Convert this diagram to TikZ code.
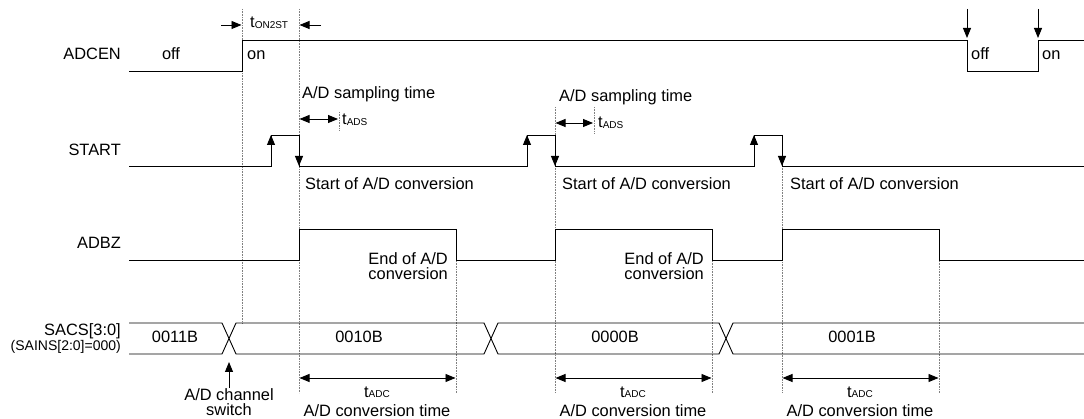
\documentclass[tikz,border=0pt]{standalone}
\usepackage{fontspec}
\setmainfont{Liberation Sans}
\usetikzlibrary{arrows.meta}
\newcommand{\tsb}[1]{t\raisebox{-1pt}{\fontsize{10}{10}\selectfont #1}}

\begin{document}
\begin{tikzpicture}[x=1pt,y=-1pt,
    sig/.style={line width=0.9pt},
    guide/.style={densely dotted,gray,line width=0.6pt},
    edgearr/.style={line width=0.9pt,-{Triangle[length=10pt,width=8pt]}},
    dimarr/.style={line width=0.9pt,{Triangle[length=10pt,width=8pt]}-{Triangle[length=10pt,width=8pt]}},
    lbl/.style={font=\fontsize{16.4}{15.5}\selectfont,inner sep=0pt},
    small/.style={font=\fontsize{14}{14}\selectfont,inner sep=0pt}]
      \useasboundingbox (0,0) rectangle (1084,419);

      % guide lines
      \draw[guide] (242,9) -- (242,323);
      \draw[guide] (299,9) -- (299,393);
      \draw[guide] (339,112) -- (339,130);
      \draw[guide] (456,229) -- (456,393);
      \draw[guide] (555,107) -- (555,393);
      \draw[guide] (594,107) -- (594,134);
      \draw[guide] (712,229) -- (712,393);
      \draw[guide] (782,166) -- (782,393);
      \draw[guide] (939,229) -- (939,393);

      % signal names
      \node[lbl,anchor=base east] (adcen) at (121,60) {ADCEN};
      \node[lbl,anchor=base east] (start) at (121,156) {START};
      \node[lbl,anchor=base east] (adbz) at (121,249) {ADBZ};
      \node[lbl,anchor=base east] (sacs) at (121,336) {SACS[3:0]};
      \node[small,anchor=base east] (sains) at (121,351) {(SAINS[2:0]=000)};

      % ADCEN
      \draw[sig] (129,71) -- (242,71) -- (242,40) -- (967,40) -- (967,71)
        -- (1038,71) -- (1038,40) -- (1084,40);
      \node[lbl,anchor=base] (off1) at (171,60) {off};
      \node[lbl,anchor=base west] (on1) at (247,60) {on};
      \node[lbl,anchor=base west] (off2) at (971,60) {off};
      \node[lbl,anchor=base west] (on2) at (1042,60) {on};
      \coordinate (offtop) at (967,9);   \coordinate (offtip) at (967,38);
      \coordinate (ontop) at (1038,9);   \coordinate (ontip) at (1038,38);
      \draw[edgearr] (offtop) -- (offtip);
      \draw[edgearr] (ontop) -- (ontip);

      \coordinate (ton-l) at (221,25);   \coordinate (ton-lt) at (241.5,25);
      \coordinate (ton-r) at (321,25);   \coordinate (ton-rt) at (299.5,25);
      \draw[edgearr] (ton-l) -- (ton-lt);
      \draw[edgearr] (ton-r) -- (ton-rt);
      \node[lbl,anchor=base west] (ton) at (250,28) {\tsb{ON2ST}};

      % START
      \draw[sig] (129,166) -- (271,166) -- (271,135) -- (299,135) -- (299,166)
        -- (527,166) -- (527,135) -- (555,135) -- (555,166)
        -- (754,166) -- (754,135) -- (782,135) -- (782,166) -- (1084,166);
      \coordinate (s1r) at (271,166);  \coordinate (s1rt) at (271,135);
      \coordinate (s1f) at (299,135);  \coordinate (s1ft) at (299,166);
      \coordinate (s2r) at (527,166);  \coordinate (s2rt) at (527,135);
      \coordinate (s2f) at (555,135);  \coordinate (s2ft) at (555,166);
      \coordinate (s3r) at (754,166);  \coordinate (s3rt) at (754,135);
      \coordinate (s3f) at (782,135);  \coordinate (s3ft) at (782,166);
      \draw[edgearr] (s1r) -- (s1rt);  \draw[edgearr] (s1f) -- (s1ft);
      \draw[edgearr] (s2r) -- (s2rt);  \draw[edgearr] (s2f) -- (s2ft);
      \draw[edgearr] (s3r) -- (s3rt);  \draw[edgearr] (s3f) -- (s3ft);

      \node[lbl,anchor=base west] (samp1) at (302,99) {A/D sampling time};
      \node[lbl,anchor=base west] (samp2) at (559,102) {A/D sampling time};
      \coordinate (ads1l) at (299.5,119);  \coordinate (ads1r) at (338,119);
      \coordinate (ads2l) at (555.5,123);  \coordinate (ads2r) at (593,123);
      \draw[dimarr] (ads1l) -- (ads1r);
      \draw[dimarr] (ads2l) -- (ads2r);
      \node[lbl,anchor=base west] (tads1) at (342,125) {\tsb{ADS}};
      \node[lbl,anchor=base west] (tads2) at (598,128) {\tsb{ADS}};

      \node[lbl,anchor=base west] (soc1) at (305,190) {Start of A/D conversion};
      \node[lbl,anchor=base west] (soc2) at (562,190) {Start of A/D conversion};
      \node[lbl,anchor=base west] (soc3) at (790,190) {Start of A/D conversion};

      % ADBZ
      \draw[sig] (129,260) -- (299,260) -- (299,229) -- (456,229) -- (456,260)
        -- (555,260) -- (555,229) -- (712,229) -- (712,260)
        -- (782,260) -- (782,229) -- (939,229) -- (939,260) -- (1084,260);
      \node[lbl,anchor=north east,align=right] (eoc1) at (448,252) {End of A/D\\conversion};
      \node[lbl,anchor=north east,align=right] (eoc2) at (704,252) {End of A/D\\conversion};

      % SACS bus
      \draw[sig] (129,323) -- (222,323) -- (236,354) -- (484,354) -- (498,323)
        -- (719,323) -- (733,354) -- (1084,354);
      \draw[sig] (129,354) -- (222,354) -- (236,323) -- (484,323) -- (498,354)
        -- (719,354) -- (733,323) -- (1084,323);
      \node[lbl,anchor=base] (v0011) at (175,343) {0011B};
      \node[lbl,anchor=base] (v0010) at (359,343) {0010B};
      \node[lbl,anchor=base] (v0000) at (615,343) {0000B};
      \node[lbl,anchor=base] (v0001) at (852,343) {0001B};

      \node[lbl,anchor=north,align=center] (chsw) at (229,388) {A/D channel\\switch};
      \coordinate (chtip) at (229,362);
      \draw[edgearr] (chsw) -- (chtip);

      % conversion time
      \coordinate (adc1l) at (299.5,378);  \coordinate (adc1r) at (455.5,378);
      \coordinate (adc2l) at (555.5,378);  \coordinate (adc2r) at (711.5,378);
      \coordinate (adc3l) at (782.5,378);  \coordinate (adc3r) at (938.5,378);
      \draw[dimarr] (adc1l) -- (adc1r);
      \draw[dimarr] (adc2l) -- (adc2r);
      \draw[dimarr] (adc3l) -- (adc3r);
      \node[lbl,anchor=base] (tadc1) at (377,397) {\tsb{ADC}};
      \node[lbl,anchor=base] (tadc2) at (633,397) {\tsb{ADC}};
      \node[lbl,anchor=base] (tadc3) at (860,397) {\tsb{ADC}};
      \node[lbl,anchor=base] (cvt1) at (377,416) {A/D conversion time};
      \node[lbl,anchor=base] (cvt2) at (633,416) {A/D conversion time};
      \node[lbl,anchor=base] (cvt3) at (860,416) {A/D conversion time};

    \end{tikzpicture}
\end{document}
